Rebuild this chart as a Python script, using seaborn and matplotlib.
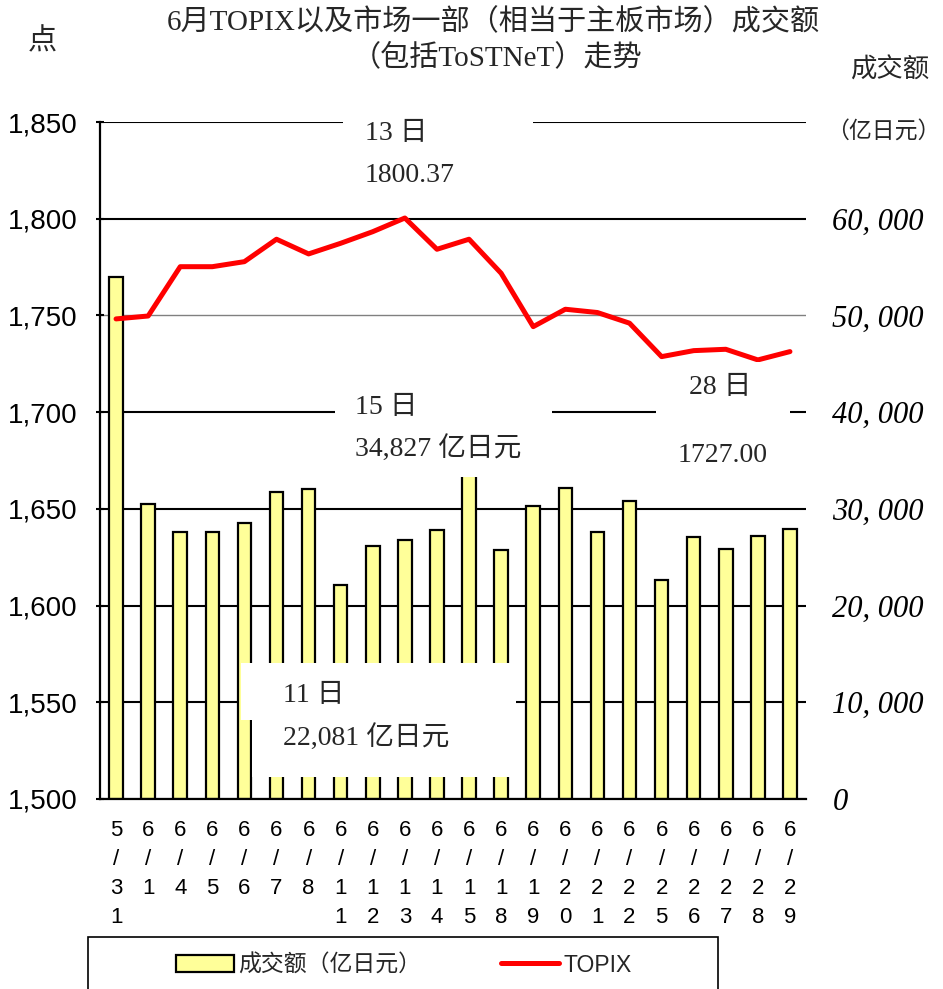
import matplotlib
matplotlib.use("Agg")
import matplotlib.pyplot as plt
import seaborn as sns
from matplotlib.patches import Rectangle, Patch
from matplotlib.lines import Line2D

dates = ['5/31', '6/1', '6/4', '6/5', '6/6', '6/7', '6/8', '6/11', '6/12', '6/13', '6/14',
         '6/15', '6/18', '6/19', '6/20', '6/21', '6/22', '6/25', '6/26', '6/27', '6/28', '6/29']
volume = [54010, 30540, 27570, 27600, 28500, 31740, 32010, 22081, 26160, 26780, 27780,
          34827, 25710, 30290, 32120, 27570, 30770, 22620, 27060, 25820, 27160, 27880]
topix = [1748.2, 1749.7, 1775.2, 1775.2, 1777.8, 1789.4, 1781.8, 1787.3, 1793.3, 1800.37, 1784.2,
         1789.4, 1771.8, 1744.2, 1753.2, 1751.5, 1746.0, 1728.7, 1731.8, 1732.5, 1727.00, 1731.3]
left_ticks = [1500, 1550, 1600, 1650, 1700, 1750, 1800, 1850]
right_ticks = [0, 10000, 20000, 30000, 40000, 50000, 60000, 70000]

sns.set_theme(style='white')
plt.rcParams['font.family'] = ['Liberation Sans', 'Noto Sans CJK SC']
SERIF = ['Liberation Serif', 'Noto Sans CJK SC']

W, H = 943, 989
fig = plt.figure(figsize=(W / 100, H / 100), dpi=100)


def fx(x):
    return x / W


def fy(y):
    return 1 - y / H


ax = fig.add_axes([fx(100), fy(799), fx(806) - fx(100), fy(122) - fy(799)])
ax2 = ax.twinx()

# bars on the twin (right axis), line on the main axis drawn above
sns.barplot(x=dates, y=volume, ax=ax2, color='#FFFF99', saturation=1,
            edgecolor='black', linewidth=1.6, width=0.42)
ax2.set_ylim(0, 70000)
ax2.set_yticks(right_ticks)
ax2.set_yticklabels([f"{v:,}".replace(',', ', ') if v < 70000 else '' for v in right_ticks],
                    fontstyle='italic', family='Liberation Serif', fontsize=22)
ax2.tick_params(axis='y', length=0, pad=19, colors='black')
ax2.grid(axis='y', color='black', linewidth=1.5)
ax2.set_axisbelow(True)
for v, gl in zip(right_ticks, ax2.get_ygridlines()):
    if v == 50000:
        gl.set_color('#808080')
        gl.set_linewidth(1.0)
ax2.set_ylabel('')
for s in ['top', 'right', 'left', 'bottom']:
    ax2.spines[s].set_visible(False)

sns.lineplot(x=list(range(len(dates))), y=topix, ax=ax, color='#FF0000',
             linewidth=3.6, sort=False, zorder=3)
ax.set_zorder(ax2.get_zorder() + 1)
ax.patch.set_visible(False)
ax.set_ylim(1500, 1850)
ax.set_yticks(left_ticks)
ax.set_yticklabels([f"{v:,}" for v in left_ticks], fontsize=20)
ax.tick_params(axis='y', length=6, width=1.5, direction='inout', pad=13, colors='black')
ax.set_xlim(-0.5, len(dates) - 0.5)
ax.set_xticks(range(len(dates)))
ax.set_xticklabels(['\n'.join(d) for d in dates], fontsize=16, linespacing=1.5)
ax.tick_params(axis='x', length=0, pad=15, colors='black')
for s in ['top', 'right']:
    ax.spines[s].set_visible(False)
for s in ['left', 'bottom']:
    ax.spines[s].set_color('black')
    ax.spines[s].set_linewidth(1.6)

# titles and axis captions
fig.text(fx(493), fy(22), '6月TOPIX以及市场一部（相当于主板市场）成交额', ha='center', va='center',
         fontsize=21, family=SERIF)
fig.text(fx(497), fy(57), '（包括ToSTNeT）走势', ha='center', va='center', fontsize=21, family=SERIF)
fig.text(fx(42), fy(42), '点', ha='center', va='center', fontsize=21, family=SERIF)
fig.text(fx(890), fy(70), '成交额', ha='center', va='center', fontsize=19, family=SERIF)
fig.text(fx(883), fy(132), '（亿日元）', ha='center', va='center', fontsize=16.5, family=SERIF)

# annotation boxes
boxes = [(343, 105, 533, 205), (335, 385, 552, 477), (656, 362, 790, 480),
         (241, 663, 516, 720), (252, 663, 516, 777)]
for x0, y0, x1, y1 in boxes:
    fig.add_artist(Rectangle((fx(x0), fy(y1)), (x1 - x0) / W, (y1 - y0) / H,
                             transform=fig.transFigure, facecolor='white',
                             edgecolor='none', zorder=5))

notes = [(365, 133, '13 日', 'left'), (365, 176, '1800.37', 'left'),
         (355, 407, '15 日', 'left'), (355, 448, '34,827 亿日元', 'left'),
         (720, 388, '28 日', 'center'), (723, 455, '1727.00', 'center'),
         (283, 695, '11 日', 'left'), (283, 737, '22,081 亿日元', 'left')]
for x, y, t, ha in notes:
    fig.text(fx(x), fy(y), t, ha=ha, va='center', fontsize=20, family=SERIF, zorder=6)

# legend with a frame running off the bottom edge
handles = [Patch(facecolor='#FFFF99', edgecolor='black', linewidth=1.6),
           Line2D([0], [0], color='#FF0000', linewidth=3.6)]
fig.legend(handles, ['成交额（亿日元）', 'TOPIX'], loc='center', ncol=2,
           bbox_to_anchor=(fx(404), fy(965)), frameon=False, fontsize=16.5,
           handlelength=2.5, handleheight=0.7, handletextpad=0.2, columnspacing=3.5)
fig.add_artist(Rectangle((fx(88), fy(1010)), (718 - 88) / W, (1010 - 937) / H,
                         transform=fig.transFigure, facecolor='none',
                         edgecolor='black', linewidth=1.2, zorder=4))

fig.savefig('out.png', dpi=100)
